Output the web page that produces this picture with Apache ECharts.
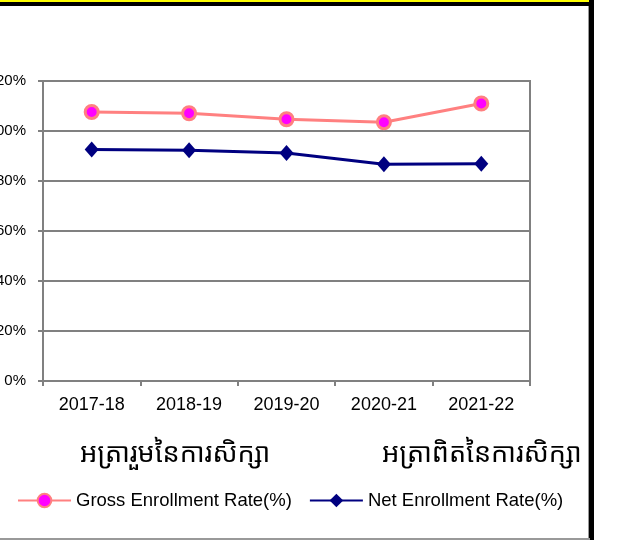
<!DOCTYPE html>
<html>
<head>
<meta charset="utf-8">
<script src="https://cdn.jsdelivr.net/npm/echarts@6/dist/echarts.min.js"></script>
<style>
html,body{margin:0;padding:0;background:#fff;}
#chart{width:621px;height:540px;}
</style>
</head>
<body>
<div id="chart"></div>
<script>
const categories = ['2017-18', '2018-19', '2019-20', '2020-21', '2021-22'];
const grossRate = [107.6, 107.1, 104.7, 103.5, 111.0];
const netRate = [92.6, 92.3, 91.2, 86.7, 86.9];
const seriesNames = ['Gross Enrollment Rate(%)', 'Net Enrollment Rate(%)'];
const khmerTitles = ['អត្រារួមនៃការសិក្សា', 'អត្រាពិតនៃការសិក្សា'];

const chart = echarts.init(document.getElementById('chart'), null, {renderer: 'canvas'});
const khFont = '"Khmer OS", "Noto Sans Khmer", "Noto Serif Khmer", "Khmer OS System", sans-serif';
chart.setOption({
  animation: false,
  backgroundColor: '#ffffff',
  textStyle: {fontFamily: 'Arial, "Liberation Sans", sans-serif'},
  graphic: [
    {type: 'rect', shape: {x: 0, y: 0, width: 593, height: 3}, style: {fill: '#ffff00'}, z: 100},
    {type: 'rect', shape: {x: 0, y: 2, width: 593, height: 4}, style: {fill: '#000000'}, z: 100},
    {type: 'rect', shape: {x: 589, y: 0, width: 5, height: 540}, style: {fill: '#000000'}, z: 100},
    {type: 'rect', shape: {x: 588, y: 6, width: 1, height: 534}, style: {fill: '#999999'}, z: 100},
    {type: 'rect', shape: {x: 0, y: 538, width: 590, height: 2}, style: {fill: '#999999'}, z: 100},
    {type: 'text', left: 80, top: 441, style: {text: khmerTitles[0], font: '27px ' + khFont, fill: '#000'}},
    {type: 'text', left: 382, top: 441, style: {text: khmerTitles[1], font: '27px ' + khFont, fill: '#000'}}
  ],
  legend: {
    left: 17,
    top: 491,
    padding: 0,
    itemWidth: 53,
    itemHeight: 17,
    itemGap: 17,
    textStyle: {fontSize: 18.5, color: '#000', fontFamily: 'Arial, "Liberation Sans", sans-serif'},
    data: seriesNames
  },
  grid: {left: 43, right: 91, top: 81, bottom: 159, containLabel: false, outerBoundsMode: 'none', show: true, borderColor: '#808080', borderWidth: 2},
  xAxis: {
    type: 'category',
    data: categories,
    boundaryGap: true,
    axisLine: {lineStyle: {color: '#808080', width: 2}},
    axisTick: {show: true, length: 5, alignWithLabel: false, lineStyle: {color: '#808080', width: 2}},
    axisLabel: {fontSize: 18, color: '#000', margin: 15}
  },
  yAxis: {
    type: 'value',
    min: 0,
    max: 120,
    interval: 20,
    axisLine: {show: true, lineStyle: {color: '#808080', width: 2}},
    axisTick: {show: true, length: 5, lineStyle: {color: '#808080', width: 2}},
    splitLine: {lineStyle: {color: '#808080', width: 2}},
    axisLabel: {fontSize: 15, color: '#000', margin: 17, formatter: '{value}%'}
  },
  series: [
    {
      name: seriesNames[0],
      type: 'line',
      data: grossRate,
      symbol: 'circle',
      symbolSize: 13,
      lineStyle: {color: '#ff8080', width: 3},
      itemStyle: {color: '#ff00ff', borderColor: '#ff8080', borderWidth: 3}
    },
    {
      name: seriesNames[1],
      type: 'line',
      data: netRate,
      symbol: 'diamond',
      symbolSize: [14, 16],
      lineStyle: {color: '#000080', width: 3},
      itemStyle: {color: '#000080', borderColor: '#000080', borderWidth: 0}
    }
  ]
});
</script>
</body>
</html>
